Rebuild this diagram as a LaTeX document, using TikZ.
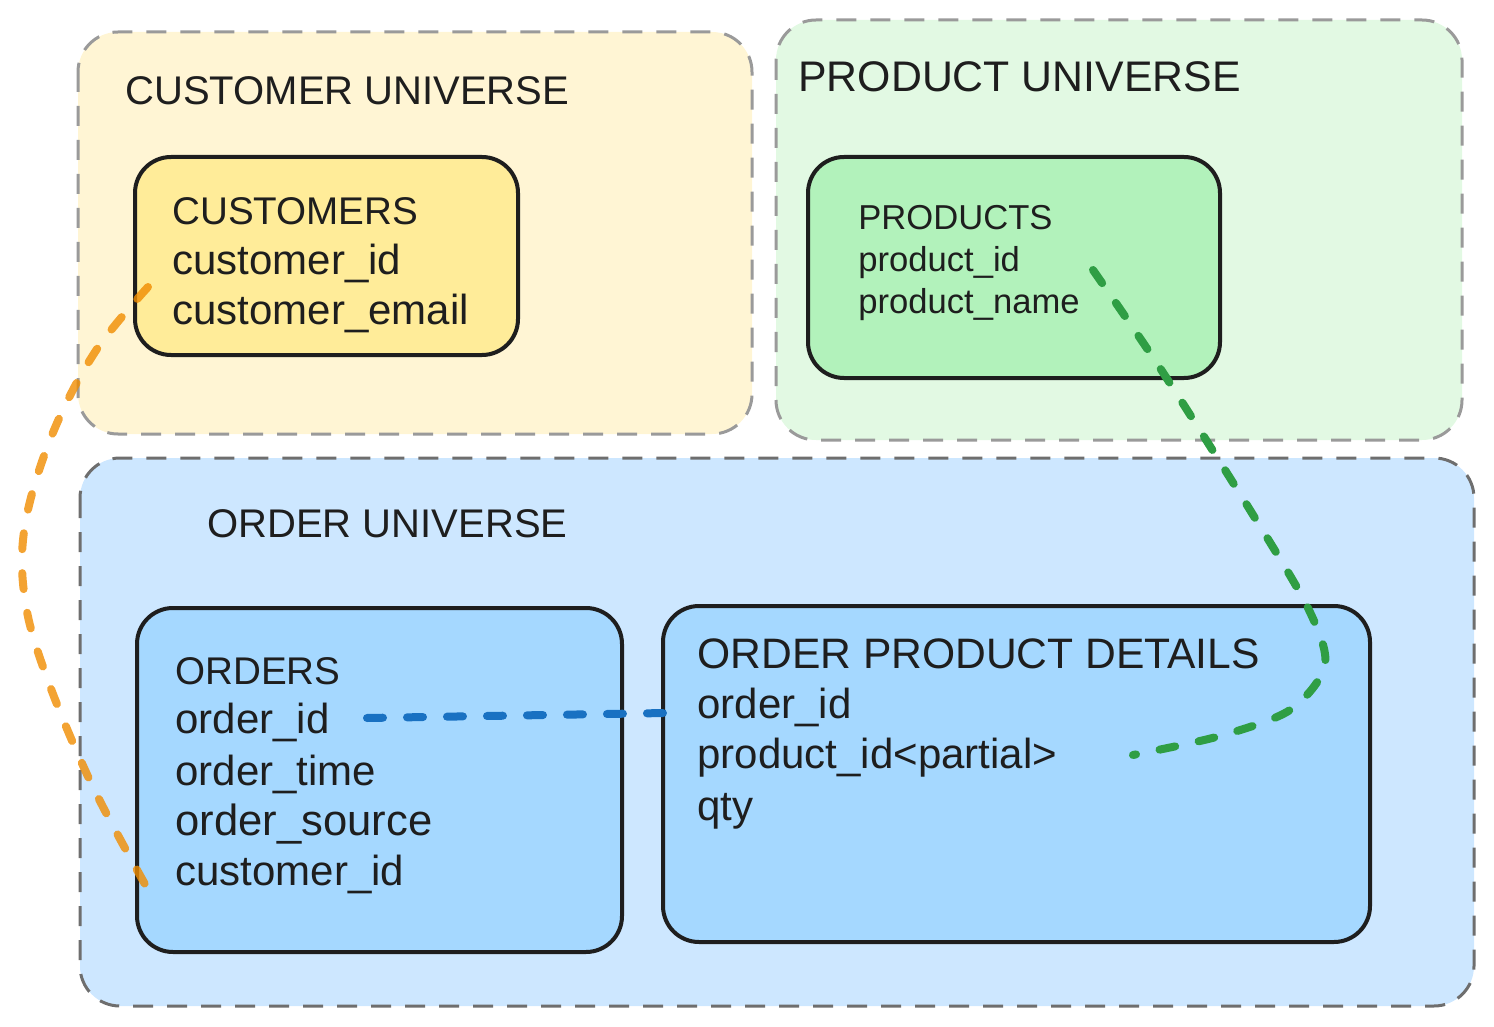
\documentclass[tikz,border=0pt]{standalone}
\usepackage{fontspec}
\setmainfont{Liberation Sans}
\definecolor{ink}{HTML}{1E1E1E}
\definecolor{cuFill}{HTML}{FFF5D4}
\definecolor{cuBox}{HTML}{FFEC99}
\definecolor{puFill}{HTML}{E2F9E3}
\definecolor{puBox}{HTML}{B2F2BB}
\definecolor{ouFill}{HTML}{CDE7FF}
\definecolor{ouBox}{HTML}{A5D8FF}
\definecolor{lightgray}{HTML}{9A9A9A}
\definecolor{darkgray}{HTML}{6E6E6E}
\definecolor{lnOrange}{HTML}{F08C00}
\definecolor{lnBlue}{HTML}{1971C2}
\definecolor{lnGreen}{HTML}{2F9E44}
\begin{document}
\begin{tikzpicture}[x=0.5pt,y=-0.5pt,
  ubox/.style={dash pattern=on 10pt off 7pt, line width=1.5pt, rounded corners=20pt},
  tbox/.style={draw=ink, line width=2pt, rounded corners=18pt},
  lbl/.style={anchor=base west, inner sep=0pt, text=ink},
  title/.style={lbl, font=\fontsize{20}{24}\selectfont},
  field/.style={lbl, font=\fontsize{21}{24}\selectfont},
  small/.style={lbl, font=\fontsize{17.3}{20}\selectfont},
  link/.style={line width=4pt, line cap=round, dash pattern=on 8pt off 12pt}]
\useasboundingbox (0,0) rectangle (1494,1027);
% universes
\path[ubox, fill=cuFill, draw=lightgray] (78,32) rectangle (752,434);
\path[ubox, fill=puFill, draw=lightgray] (776,20) rectangle (1462,440);
\path[ubox, fill=ouFill, draw=darkgray] (80,458) rectangle (1474,1006);
% tables
\path[tbox, fill=cuBox] (135,157) rectangle (518,355);
\path[tbox, fill=puBox] (808,157) rectangle (1220,378);
\path[tbox, fill=ouBox] (137,608) rectangle (622,952);
\path[tbox, fill=ouBox] (663,606) rectangle (1370,942);
% titles
\node[title] (cuT) at (125,105) {CUSTOMER UNIVERSE};
\node[title, font=\fontsize{21.4}{24}\selectfont] (puT) at (798,92) {PRODUCT UNIVERSE};
\node[title] (ouT) at (207,537) {ORDER UNIVERSE};
% customers
\node[field, font=\fontsize{19.3}{24}\selectfont] (cH) at (172,225) {CUSTOMERS};
\node[field] (cF1) at (172,275) {customer\_id};
\node[field] (cF2) at (172,325) {customer\_email};
% products
\node[small] (pH) at (858,230) {PRODUCTS};
\node[small] (pF1) at (858,272) {product\_id};
\node[small] (pF2) at (858,314) {product\_name};
% orders
\node[field, font=\fontsize{19.3}{24}\selectfont] (oH) at (175,684) {ORDERS};
\node[field] (oF1) at (175,733) {order\_id};
\node[field] (oF2) at (175,785) {order\_time};
\node[field, font=\fontsize{21.8}{24}\selectfont] (oF3) at (175,835) {order\_source};
\node[field] (oF4) at (175,885) {customer\_id};
% order product details
\node[field, font=\fontsize{21.3}{24}\selectfont] (dH) at (697,668) {ORDER PRODUCT DETAILS};
\node[field] (dF1) at (697,718) {order\_id};
\node[field] (dF2) at (697,768) {product\_id<partial>};
\node[field] (dF3) at (697,820) {qty};
% connector points
\coordinate (oa) at (148,287);
\coordinate (ob) at (95,352);
\coordinate (oc) at (52,435);
\coordinate (od) at (25,525);
\coordinate (oe) at (25,600);
\coordinate (of) at (47,678);
\coordinate (og) at (92,785);
\coordinate (oh) at (146,886);
\coordinate (ba) at (367,718);
\coordinate (bb) at (666,713);
\coordinate (ga) at (1093,270);
\coordinate (gb) at (1160,368);
\coordinate (gc) at (1250,510);
\coordinate (gd) at (1308,608);
\coordinate (ge) at (1325,665);
\coordinate (gf) at (1290,710);
\coordinate (gg) at (1220,736);
\coordinate (gh) at (1133,755);
% connectors
\draw[link, lnOrange, draw opacity=0.8] plot[smooth, tension=0.6] coordinates {(oa) (ob) (oc) (od) (oe) (of) (og) (oh)};
\draw[link, lnBlue] (ba) -- (bb);
\draw[link, lnGreen] plot[smooth, tension=0.5] coordinates {(ga) (gb) (gc) (gd) (ge) (gf) (gg) (gh)};
\end{tikzpicture}
\end{document}
